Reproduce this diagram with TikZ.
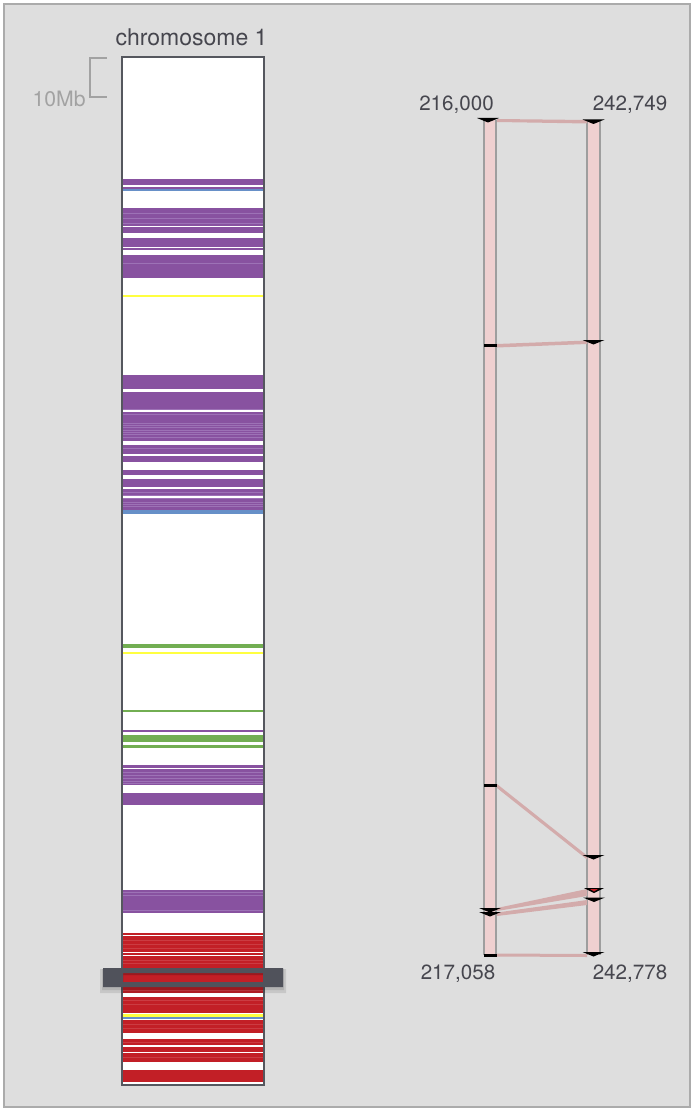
\documentclass[tikz,border=0pt]{standalone}
\usepackage{fontspec}
\setmainfont{TeX Gyre Heros}
\usetikzlibrary{positioning}
\definecolor{panelbg}{HTML}{DEDEDE}
\definecolor{panelframe}{HTML}{ABABAB}
\definecolor{chromframe}{HTML}{55575E}
\definecolor{txtgray}{HTML}{46464E}
\definecolor{scalegray}{HTML}{A2A2A2}
\definecolor{purp}{HTML}{8852A0}
\definecolor{purplight}{HTML}{9D72B6}
\definecolor{redband}{HTML}{C21F26}
\definecolor{redlight}{HTML}{CB3C42}
\definecolor{greenband}{HTML}{72AE52}
\definecolor{yellowband}{HTML}{FFFF40}
\definecolor{blueband}{HTML}{6790C8}
\definecolor{barpink}{HTML}{EFD0D0}
\definecolor{linkpink}{HTML}{D3ABAB}
\definecolor{bargray}{HTML}{9E9E9E}
\definecolor{selgray}{HTML}{50525B}
\tikzset{
  downtick/.pic={\fill[black] (-11,0) -- (11,0) -- (0,4.5) -- cycle;},
  redtick/.pic={\fill[black] (-10,0) -- (10,0) -- (0,5) -- cycle;
                \fill[redband] (-4,1) -- (4,1) -- (0,3.5) -- cycle;},
  flattick/.pic={\fill[black] (-6.5,-1.5) rectangle (6.5,1.5);}
}
\begin{document}
\begin{tikzpicture}[x=0.5pt,y=-0.5pt]
\tikzstyle{every node}+=[inner sep=0pt]
\tikzstyle{numlabel}=[text=txtgray,font=\fontsize{10.3}{12}\selectfont]
\tikzstyle{synbar}=[fill=barpink,minimum width=7pt,minimum height=417.5pt]
\useasboundingbox (0,0) rectangle (696,1117);
\fill[white] (0,0) rectangle (696,1117);
\draw[panelframe,line width=1pt,fill=panelbg] (4,4) rectangle (690,1107);
% chromosome
\node[text=txtgray,font=\fontsize{11.5}{13}\selectfont] (chrtitle) at (191.5,37) {chromosome 1};
\node[fill=white,minimum width=71pt,minimum height=514pt] (chrom) at (193,571) {};
\draw[scalegray,line width=1pt] (107,58) -- (90,58) -- (90,97) -- (107,97);
\node[text=scalegray,font=\fontsize{10.6}{12}\selectfont,anchor=east] (scalelbl) at (86,99) {10Mb};
% bands
\foreach \a/\b in {179/189.5,208/233.5,238/247,248/250,255/278,375/388.5,391.5/441,
  445/453.5,456/461.7,470/475,479.3/486.7,489.3/509.5,730/732,765/768.3,769.3/785,
  793.3/805,890/912.7}
  \fill[purp] (122,\a) rectangle (264,\b);
\foreach \y in {213,218,223,263,409,414,423,425,427.5,430,432,434.5,437,448,
  492.5,495,498.5,502,504.5,506.5,772,775,778,781,783,892,895,910}
  \draw[purplight,line width=0.35pt] (122,\y) -- (264,\y);
\foreach \a/\b in {932.7/935,936/992.7,996.7/1013.3,1020/1032.7,1039.3/1061.7,1070/1081.7}
  \fill[redband] (122,\a) rectangle (264,\b);
\foreach \y in {940,944,948,960,963,990,1000,1004,1024,1028,1042,1057}
  \draw[redlight,line width=0.35pt] (122,\y) -- (264,\y);
\foreach \y in {186,226.5,411,497,952.7,955.5,1046,1052.5}
  \draw[white,line width=0.6pt] (122,\y) -- (264,\y);
\foreach \a/\b in {644/648.3,710/711.7,735/742.3,745/747.7}
  \fill[greenband] (122,\a) rectangle (264,\b);
\foreach \a/\b in {295.5/297.5,652.3/654.3,1014.3/1016.7}
  \fill[yellowband] (122,\a) rectangle (264,\b);
\foreach \a/\b in {189.5/191.3,509.5/514,1017/1018.5}
  \fill[blueband] (122,\a) rectangle (264,\b);
\draw[chromframe,line width=1pt] (chrom.north west) rectangle (chrom.south east);
% selection window
\fill[black,opacity=0.10,even odd rule] (100,969) rectangle (286,993) (123,975) rectangle (263,982);
\fill[black,opacity=0.10,even odd rule] (102,969) rectangle (284,990) (123,975) rectangle (263,982);
\fill[selgray,even odd rule] (103,968) rectangle (283,987) (123,973) rectangle (263,982);
% synteny bars
\node[synbar] (lbar) at (490,537.5) {};
\node[synbar] (rbar) at (593.5,537.5) {};
\foreach \b in {lbar,rbar} {
  \draw[bargray,line width=1pt] ([xshift=0.5pt]\b.north west) -- ([xshift=0.5pt]\b.south west);
  \draw[bargray,line width=1pt] ([xshift=-0.5pt]\b.north east) -- ([xshift=-0.5pt]\b.south east);
}
% links
\coordinate (la) at (497,119);   \coordinate (lb) at (497,122);
\coordinate (ra) at (587,120);   \coordinate (rb) at (587,123.5);
\fill[linkpink] (la) -- (ra) -- (rb) -- (lb) -- cycle;
\coordinate (lc) at (497,344);   \coordinate (ld) at (497,347.5);
\coordinate (rc) at (587,340.5); \coordinate (rd) at (587,344);
\fill[linkpink] (lc) -- (rc) -- (rd) -- (ld) -- cycle;
\coordinate (le) at (497,784);   \coordinate (lf) at (497,788);
\coordinate (re) at (587,855.5); \coordinate (rf) at (587,859.5);
\fill[linkpink] (le) -- (re) -- (rf) -- (lf) -- cycle;
\coordinate (lg) at (497,908);   \coordinate (lh) at (497,911);
\coordinate (rg) at (587,889);   \coordinate (rh) at (587,896);
\fill[linkpink] (lg) -- (rg) -- (rh) -- (lh) -- cycle;
\coordinate (li) at (497,912.5); \coordinate (lj) at (497,916);
\coordinate (ri) at (587,900);   \coordinate (rj) at (587,905);
\fill[linkpink] (li) -- (ri) -- (rj) -- (lj) -- cycle;
\coordinate (lk) at (497,953.5); \coordinate (ll) at (497,956.5);
\coordinate (rk) at (587,954);   \coordinate (rl) at (587,957);
\fill[linkpink] (lk) -- (rk) -- (rl) -- (ll) -- cycle;
% markers
\pic at (488,118) {downtick};
\pic at (490.5,345) {flattick};
\pic at (490.5,785) {flattick};
\pic at (490,908) {downtick};
\pic at (490,912) {downtick};
\pic at (490.5,955) {flattick};
\pic at (593.5,119.5) {downtick};
\pic at (593.5,340) {downtick};
\pic at (593.5,855) {downtick};
\pic at (594,888) {redtick};
\pic at (594,897.5) {downtick};
\pic at (593.5,952) {downtick};
% positions
\node[numlabel] (lstart) at (456.5,105) {216,000};
\node[numlabel] (rstart) at (630,105) {242,749};
\node[numlabel] (lend) at (458,973.5) {217,058};
\node[numlabel] (rend) at (630,973.5) {242,778};
\end{tikzpicture}
\end{document}
